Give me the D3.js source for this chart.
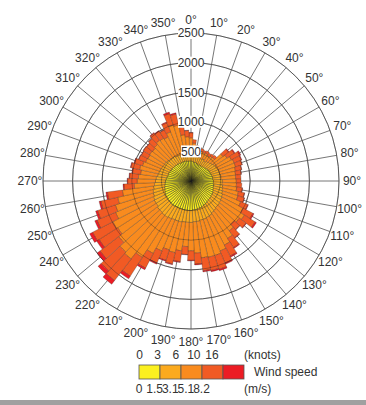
<!DOCTYPE html>
<html>
<head>
<meta charset="utf-8">
<script src="https://cdn.jsdelivr.net/npm/d3@7"></script>
<style>
  body { margin: 0; background: #fff; }
  text { font-family: "Liberation Sans", Arial, sans-serif; }
</style>
</head>
<body>
<div id="chart"></div>
<script>
// direction bins (degrees, bin centre), 5 degree wide
const directions = [0,5,10,15,20,25,30,35,40,45,50,55,60,65,70,75,80,85,90,95,
  100,105,110,115,120,125,130,135,140,145,150,155,160,165,170,175,180,185,190,195,
  200,205,210,215,220,225,230,235,240,245,250,255,260,265,270,275,280,285,290,295,
  300,305,310,315,320,325,330,335,340,345,350,355];

// counts per speed class (m/s): 0-1.5, 1.5-3.1, 3.1-5.1, 5.1-8.2, >8.2
const speed1 = [340,330,320,320,310,300,310,300,310,320, 330,340,350,350,360,360,370,370,380,380,
  390,390,400,410,420,420,430,430,440,450, 460,470,480,480,490,490,500,500,500,500,
  500,500,500,510,510,500,500,490,490,480, 470,460,450,440,430,420,410,400,400,390,
  380,380,370,370,360,360,350,350,350,350, 340,340];
const speed2 = [120,120,110,110,110,110,110,100,110,110, 120,130,130,140,140,140,140,140,150,150,
  150,160,160,170,170,180,180,180,190,190, 200,200,200,200,200,200,200,200,200,210,
  210,210,220,220,220,220,220,210,210,210, 200,200,190,180,170,170,160,160,150,150,
  150,150,150,140,140,140,130,130,130,130, 120,120];
const speed3 = [270,190,130,110,110,110,110,110,110,110, 230,250,290,300,290,270,250,245,235,240,
  240,270,270,330,400,470,420,380,430,510, 560,610,640,640,620,530,480,410,490,530,
  510,570,660,800,930,910,820,770,790,690, 670,610,530,340,310,300,290,330,310,290,
  290,300,300,330,370,360,360,420,510,490, 330,290];
const speed4 = [85,60,50,50,45,40,45,50,45,50, 120,145,160,130,115,105,95,90,80,90,
  95,105,115,130,190,215,140,125,150,185, 210,220,245,230,220,185,160,135,185,195,
  185,220,280,375,460,430,400,370,385,340, 315,290,255,175,160,150,140,150,140,125,
  125,125,125,135,150,140,135,165,205,190, 130,105];
const speed5 = [5,0,0,0,0,0,0,0,0,0, 10,15,20,10,5,5,5,0,0,0,
  5,5,5,10,20,25,10,5,10,15, 20,20,25,20,20,15,10,5,15,15,
  15,20,30,55,80,70,60,50,55,40, 35,30,25,15,10,10,10,10,10,5,
  5,5,5,5,10,10,5,15,25,20, 10,5];

const classColors = ["#fbf020", "#fbaa1e", "#f98b1e", "#f15a24", "#ec1c24"];
const edgeOpacity = [0.7, 0.5, 0.42, 0.42, 0.42];
const ringTicks = [500, 1000, 1500, 2000, 2500];
const angleTicks = [0,10,20,30,40,50,60,70,80,90,100,110,120,130,140,150,160,170,
  180,190,200,210,220,230,240,250,260,270,280,290,300,310,320,330,340,350];
const knotLabels = ["0", "3", "6", "10", "16"];
const msLabels = ["0", "1.5", "3.1", "5.1", "8.2"];

const width = 366, height = 405;
const cx = 191, cy = 181;

const svg = d3.select("#chart").append("svg")
  .attr("width", width)
  .attr("height", height);

const r = d3.scaleLinear().domain([0, 2500]).range([0, 148]);
const rad = d => d * Math.PI / 180;

const g = svg.append("g").attr("transform", "translate(" + cx + "," + cy + ")");

// grid under the bars
g.selectAll(".spoke").data(angleTicks).enter().append("line")
  .attr("x1", 0).attr("y1", 0)
  .attr("x2", d => r(2500) * Math.sin(rad(d)))
  .attr("y2", d => -r(2500) * Math.cos(rad(d)))
  .attr("stroke", "#666").attr("stroke-width", 0.9);

g.selectAll(".ring").data(ringTicks).enter().append("circle")
  .attr("r", d => r(d))
  .attr("fill", "none").attr("stroke", "#666").attr("stroke-width", 0.9);

// stack the speed classes per direction
const rows = directions.map((d, i) => ({
  dir: d, s1: speed1[i], s2: speed2[i], s3: speed3[i], s4: speed4[i], s5: speed5[i]
}));
const stack = d3.stack().keys(["s1", "s2", "s3", "s4", "s5"]);
const layers = stack(rows);

const arc = d3.arc()
  .innerRadius(d => r(d[0]))
  .outerRadius(d => r(d[1]))
  .startAngle(d => rad(d.data.dir - 2.5))
  .endAngle(d => rad(d.data.dir + 2.5));

layers.forEach((layer, k) => {
  g.append("g").selectAll("path")
    .data(layer.filter(d => d[1] > d[0]))
    .enter().append("path")
    .attr("d", arc)
    .attr("fill", classColors[k])
    .attr("stroke", "#1a1a1a")
    .attr("stroke-opacity", edgeOpacity[k])
    .attr("stroke-width", 0.6);
});

// rings show through the bars
g.selectAll(".ringOver").data(ringTicks).enter().append("circle")
  .attr("r", d => r(d))
  .attr("fill", "none").attr("stroke", "#222").attr("stroke-opacity", 0.45).attr("stroke-width", 0.8);

// ring labels along the 0 degree axis
const rl = g.selectAll(".rlab").data(ringTicks).enter().append("g")
  .attr("transform", d => "translate(0," + (-r(d)) + ")");
rl.append("rect")
  .attr("x", d => d >= 1000 ? -13 : -10).attr("y", -6)
  .attr("width", d => d >= 1000 ? 26 : 20).attr("height", 12)
  .attr("fill", "#fff");
rl.append("text")
  .attr("text-anchor", "middle").attr("dy", "0.36em")
  .attr("font-size", 12).attr("fill", "#333")
  .text(d => d);

// direction labels
g.selectAll(".alab").data(angleTicks).enter().append("text")
  .attr("x", d => 161 * Math.sin(rad(d)))
  .attr("y", d => -161 * Math.cos(rad(d)))
  .attr("text-anchor", "middle").attr("dy", "0.36em")
  .attr("font-size", 12).attr("fill", "#333")
  .text(d => d + "\u00b0");

// legend
const boxX = d3.scaleLinear().domain([0, 5]).range([139, 244]);
const lg = svg.append("g");
lg.selectAll("rect").data(classColors).enter().append("rect")
  .attr("x", (d, i) => boxX(i)).attr("y", 365)
  .attr("width", boxX(1) - boxX(0)).attr("height", 14)
  .attr("fill", d => d).attr("stroke", "#555").attr("stroke-width", 0.8);

const knotX = d3.scaleLinear().domain([0, 4]).range([139.5, 212]);
lg.selectAll(".kn").data(knotLabels).enter().append("text")
  .attr("x", (d, i) => knotX(i)).attr("y", 359)
  .attr("text-anchor", "middle").attr("font-size", 12).attr("fill", "#333")
  .text(d => d);
const msX = d3.scaleLinear().domain([0, 4]).range([139, 201.5]);
lg.selectAll(".ms").data(msLabels).enter().append("text")
  .attr("x", (d, i) => msX(i)).attr("y", 393)
  .attr("text-anchor", "middle").attr("font-size", 12).attr("fill", "#333")
  .text(d => d);
lg.append("text").attr("x", 244).attr("y", 359).attr("font-size", 12).attr("fill", "#333").text("(knots)");
lg.append("text").attr("x", 254).attr("y", 376).attr("font-size", 12).attr("fill", "#333").text("Wind speed");
lg.append("text").attr("x", 244).attr("y", 393).attr("font-size", 12).attr("fill", "#333").text("(m/s)");

// bottom frame edge
svg.append("rect").attr("x", 0).attr("y", 400).attr("width", width).attr("height", 5).attr("fill", "#a0a0a0");
</script>
</body>
</html>
